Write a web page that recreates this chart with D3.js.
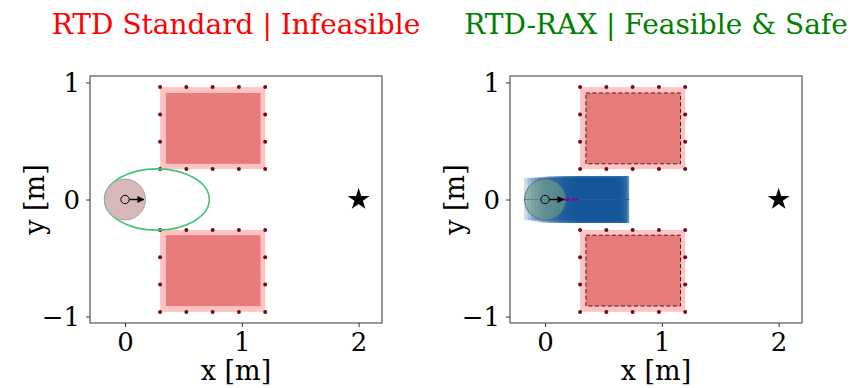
<!DOCTYPE html>
<html>
<head>
<meta charset="utf-8">
<script src="https://cdn.jsdelivr.net/npm/d3@7"></script>
<style>
  body { margin: 0; background: #fff; }
  text { font-family: "DejaVu Serif", serif; }
</style>
</head>
<body>
<div id="chart"></div>
<script>
// panel titles
var titles = ["RTD Standard | Infeasible", "RTD-RAX | Feasible & Safe"];
var titleColors = ["#ff0000", "#008000"];
var xTicks = [0, 1, 2];
var yTicks = [-1, 0, 1];

// obstacles (outer padded box + inner box)
var obsX = [0.3, 1.2];
var obsTopY = [0.26, 0.96];
var obsBotY = [-0.96, -0.26];
var innerX = [0.35, 1.16];
var innerTopY = [0.305, 0.91];
var innerBotY = [-0.91, -0.305];
// boundary points of each obstacle
var dotX = [0.3, 0.525, 0.75, 0.975, 1.2];
var dotSideTopY = [0.493, 0.727];
var dotSideBotY = [-0.727, -0.493];

var goal = [2, 0];
var robotPos = [0, 0];
var robotR = 0.175;
var headingTip = 0.16;

// left: ellipse of standard RTD reachable set
var ellCenter = [0.273, 0];
var ellRadii = [0.448, 0.262];

// right: FRS slices (left edge, right edge, top, bottom)
var frsLeft = [-0.18, -0.15, -0.12, -0.09, -0.06, -0.03, 0.0, 0.03, 0.07, 0.11, 0.15, 0.19, 0.23, 0.27];
var frsRight = [0.62, 0.64, 0.66, 0.67, 0.68, 0.69, 0.70, 0.70, 0.71, 0.71, 0.72, 0.72, 0.72, 0.72];
var frsTop = [0.185, 0.185, 0.185, 0.19, 0.19, 0.195, 0.2, 0.2, 0.2, 0.2, 0.2, 0.2, 0.2, 0.2];
var frsBot = [-0.175, -0.18, -0.185, -0.19, -0.195, -0.2, -0.2, -0.2, -0.2, -0.2, -0.2, -0.2, -0.2, -0.2];
var planX = [0.16, 0.33];

var W = 857, H = 388;
var svg = d3.select("#chart").append("svg").attr("width", W).attr("height", H);

var defs = svg.append("defs");
defs.append("marker").attr("id", "arr").attr("viewBox", "0 0 10 10")
  .attr("refX", 9).attr("refY", 5).attr("markerWidth", 7).attr("markerHeight", 7)
  .attr("markerUnits", "userSpaceOnUse").attr("orient", "auto")
  .append("path").attr("d", "M0,0 L10,5 L0,10 z").attr("fill", "#000");

var panels = [{left: 90, right: 382}, {left: 510, right: 802}];
var plotTop = 76, plotBottom = 323;

panels.forEach(function(p, pi) {
  var x = d3.scaleLinear().domain([-0.3, 2.2]).range([p.left, p.right]);
  var y = d3.scaleLinear().domain([-1.055, 1.055]).range([plotBottom, plotTop]);
  var g = svg.append("g");
  var clipId = "clip" + pi;
  defs.append("clipPath").attr("id", clipId).append("rect")
    .attr("x", p.left).attr("y", plotTop).attr("width", p.right - p.left).attr("height", plotBottom - plotTop);
  var plot = g.append("g").attr("clip-path", "url(#" + clipId + ")");

  // obstacles
  [[obsTopY, innerTopY, dotSideTopY], [obsBotY, innerBotY, dotSideBotY]].forEach(function(o) {
    var oy = o[0], iy = o[1], sy = o[2];
    plot.append("rect")
      .attr("x", x(obsX[0])).attr("y", y(oy[1]))
      .attr("width", x(obsX[1]) - x(obsX[0])).attr("height", y(oy[0]) - y(oy[1]))
      .attr("fill", "#ffc3c3");
    plot.append("rect")
      .attr("x", x(innerX[0])).attr("y", y(iy[1]))
      .attr("width", x(innerX[1]) - x(innerX[0])).attr("height", y(iy[0]) - y(iy[1]))
      .attr("fill", "#e87b7a")
      .attr("stroke", pi === 1 ? "#3a2020" : "none")
      .attr("stroke-width", 1)
      .attr("stroke-dasharray", "4,2.5");
    var pts = [];
    dotX.forEach(function(dx) { pts.push([dx, oy[0]]); pts.push([dx, oy[1]]); });
    sy.forEach(function(dy) { pts.push([obsX[0], dy]); pts.push([obsX[1], dy]); });
    plot.selectAll(null).data(pts).enter().append("circle")
      .attr("cx", function(d) { return x(d[0]); })
      .attr("cy", function(d) { return y(d[1]); })
      .attr("r", 2).attr("fill", "#6b1010");
  });

  if (pi === 0) {
    plot.append("ellipse")
      .attr("cx", x(ellCenter[0])).attr("cy", y(ellCenter[1]))
      .attr("rx", x(ellRadii[0]) - x(0)).attr("ry", y(0) - y(ellRadii[1]))
      .attr("fill", "none").attr("stroke", "#45c576").attr("stroke-width", 1.6);
    plot.append("circle")
      .attr("cx", x(robotPos[0])).attr("cy", y(robotPos[1]))
      .attr("r", x(robotR) - x(0))
      .attr("fill", "#d8b7b8").attr("stroke", "#a8a8a8").attr("stroke-width", 1);
  } else {
    frsLeft.forEach(function(l, i) {
      plot.append("rect")
        .attr("x", x(l)).attr("y", y(frsTop[i]))
        .attr("width", x(frsRight[i]) - x(l)).attr("height", y(frsBot[i]) - y(frsTop[i]))
        .attr("fill", "#0b4f97").attr("fill-opacity", 0.2);
    });
    plot.append("line")
      .attr("x1", x(frsLeft[0])).attr("x2", x(frsRight[frsRight.length - 1]))
      .attr("y1", y(0)).attr("y2", y(0))
      .attr("stroke", "#2b5c8c").attr("stroke-width", 1);
    plot.append("circle")
      .attr("cx", x(robotPos[0])).attr("cy", y(robotPos[1]))
      .attr("r", x(robotR) - x(0))
      .attr("fill", "#78a082").attr("fill-opacity", 0.6)
      .attr("stroke", "#4f7590").attr("stroke-width", 1);
    plot.append("line")
      .attr("x1", x(planX[0])).attr("x2", x(planX[1]))
      .attr("y1", y(0)).attr("y2", y(0))
      .attr("stroke", "#8b008b").attr("stroke-width", 2.2)
      .attr("stroke-dasharray", "6,2,7,5,1");
  }

  // robot centre + heading
  plot.append("circle")
    .attr("cx", x(robotPos[0])).attr("cy", y(robotPos[1])).attr("r", 4.2)
    .attr("fill", "none").attr("stroke", "#000").attr("stroke-width", 1);
  plot.append("line")
    .attr("x1", x(robotPos[0]) + 4.2).attr("x2", x(headingTip))
    .attr("y1", y(0)).attr("y2", y(0))
    .attr("stroke", "#000").attr("stroke-width", 1.4)
    .attr("marker-end", "url(#arr)");

  // goal
  plot.append("path")
    .attr("d", d3.symbol().type(d3.symbolStar).size(150)())
    .attr("transform", "translate(" + x(goal[0]) + "," + y(goal[1]) + ")")
    .attr("fill", "#000");

  // frame
  g.append("rect").attr("x", p.left).attr("y", plotTop)
    .attr("width", p.right - p.left).attr("height", plotBottom - plotTop)
    .attr("fill", "none").attr("stroke", "#555").attr("stroke-width", 1.2);

  // axes
  var xa = g.append("g").attr("transform", "translate(0," + plotBottom + ")")
    .call(d3.axisBottom(x).tickValues(xTicks).tickSize(4).tickPadding(6).tickFormat(d3.format("d")));
  var ya = g.append("g").attr("transform", "translate(" + p.left + ",0)")
    .call(d3.axisLeft(y).tickValues(yTicks).tickSize(4).tickPadding(6)
      .tickFormat(function(d) { return d < 0 ? "\u2212" + Math.abs(d) : d; }));
  [xa, ya].forEach(function(a) {
    a.select(".domain").remove();
    a.selectAll("text").style("font-family", "DejaVu Serif").style("font-size", "26px").attr("fill", "#000");
    a.selectAll("line").attr("stroke", "#333");
  });
  xa.selectAll("text").attr("y", 8).attr("dy", "0.75em");
  ya.selectAll("text").attr("dy", "0.36em");

  g.append("text")
    .attr("x", (p.left + p.right) / 2).attr("y", 380)
    .attr("text-anchor", "middle").style("font-size", "27px").text("x [m]");
  g.append("text")
    .attr("transform", "translate(" + (p.left - 46) + "," + (plotTop + plotBottom) / 2 + ") rotate(-90)")
    .attr("text-anchor", "middle").style("font-size", "27px").text("y [m]");

  g.append("text")
    .attr("x", (p.left + p.right) / 2).attr("y", 34)
    .attr("text-anchor", "middle").style("font-size", "28px")
    .attr("fill", titleColors[pi]).text(titles[pi]);
});
</script>
</body>
</html>
